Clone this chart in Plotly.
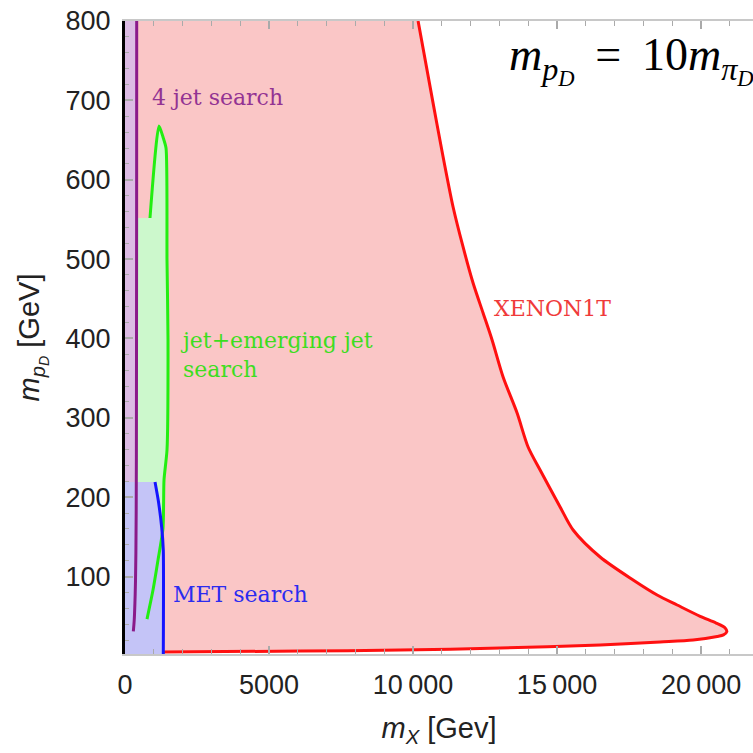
import plotly.graph_objects as go

# ---------------- data (GeV) ----------------
X_RANGE = [0, 21800]
Y_RANGE = [2.5, 800]

# XENON1T boundary (upper branch from top, tip, lower branch back to MET line)
xenon_x = [10174, 10677, 10997, 11389, 11736, 12083, 12431, 12743, 13125, 13611, 13993,
           14410, 15104, 15556, 16493, 17639, 18472, 19167, 19965, 20520, 20833, 20890,
           20775, 20556, 19722, 18576, 16493, 13021, 9549, 6076, 1319]
xenon_y = [800, 700, 637.5, 565.7, 515.3, 469.9, 432.1, 398.1, 351.5, 306.1, 263.3,
           234.3, 187.7, 158.7, 124.7, 95.7, 76.8, 64.2, 50.0, 41.5, 35.4, 30.5,
           26.6, 24.6, 20.1, 17.6, 13.8, 10.0, 7.5, 6.2, 5.0]

# 4 jet search boundary
jet4_x = [406, 404, 400, 395, 388, 378, 365, 347, 320, 289]
jet4_y = [800, 600, 400, 250, 180, 130, 95, 70, 45, 31]

# jet + emerging jet search boundary
emj_x = [868, 1181, 1319, 1424, 1458, 1493, 1458, 1354, 1319, 1146, 972, 764]
emj_y = [551.8, 667.7, 653.8, 640, 498.9, 398, 259.5, 221.7, 161.2, 120.9, 83.1, 46.5]

# MET search boundary
met_x = [1042, 1157, 1274, 1330, 1330]
met_y = [219.2, 195.6, 161.9, 133, 2.5]

# labels
x_tickvals = [0, 5000, 10000, 15000, 20000]
x_ticktext = ["0", "5000", "10\u2009000", "15\u2009000", "20\u2009000"]
y_tickvals = [100, 200, 300, 400, 500, 600, 700, 800]
y_ticktext = ["100", "200", "300", "400", "500", "600", "700", "800"]

labels = [
    dict(text="4 jet search", x=868, y=703, color="#933393"),
    dict(text="XENON1T", x=12740, y=438, color="#f03a3a"),
    dict(text="jet+emerging jet<br>search", x=1840, y=379, color="#3ddd1e"),
    dict(text="MET search", x=1587, y=78, color="#2b2bf0"),
]

RED_FILL = "#fac6c6"
PURPLE_FILL = "#dcbce4"
GREEN_FILL = "#ccf8cc"
BLUE_FILL = "#c4c4f7"

fig = go.Figure()

# red region fill (curve closed towards x = 0)
fig.add_trace(go.Scatter(
    x=xenon_x, y=xenon_y, fill="tozerox", fillcolor=RED_FILL, mode="lines",
    line=dict(width=0, shape="spline", smoothing=0.8, color=RED_FILL), hoverinfo="skip"))

# green region fill (curve closed towards x = 0, purple drawn over the strip)
fig.add_trace(go.Scatter(
    x=emj_x, y=emj_y, fill="tozerox", fillcolor=GREEN_FILL, mode="lines",
    line=dict(width=0, shape="spline", smoothing=0.6, color=GREEN_FILL), hoverinfo="skip"))

# purple region fill
fig.add_trace(go.Scatter(
    x=jet4_x, y=jet4_y, fill="tozerox", fillcolor=PURPLE_FILL, mode="lines",
    line=dict(width=0, shape="spline", color=PURPLE_FILL), hoverinfo="skip"))

# blue region fill
fig.add_trace(go.Scatter(
    x=met_x, y=met_y, fill="tozerox", fillcolor=BLUE_FILL, mode="lines",
    line=dict(width=0, shape="spline", smoothing=0.5, color=BLUE_FILL), hoverinfo="skip"))

# boundary lines
fig.add_trace(go.Scatter(x=xenon_x, y=xenon_y, mode="lines",
                         line=dict(color="#ff1010", width=3, shape="spline", smoothing=0.8),
                         hoverinfo="skip"))
fig.add_trace(go.Scatter(x=jet4_x, y=jet4_y, mode="lines",
                         line=dict(color="#8a1a8a", width=3, shape="spline"), hoverinfo="skip"))
fig.add_trace(go.Scatter(x=emj_x, y=emj_y, mode="lines",
                         line=dict(color="#22ee11", width=3, shape="spline", smoothing=0.6),
                         hoverinfo="skip"))
fig.add_trace(go.Scatter(x=met_x, y=met_y, mode="lines",
                         line=dict(color="#1515ff", width=3, shape="spline", smoothing=0.5),
                         hoverinfo="skip"))

for lb in labels:
    fig.add_annotation(x=lb["x"], y=lb["y"], text=lb["text"], showarrow=False,
                       xanchor="left", yanchor="middle", align="left",
                       font=dict(family="DejaVu Serif", size=22, color=lb["color"]))

# title formula
fig.add_annotation(
    xref="paper", yref="paper", x=0.608, y=0.99, xanchor="left", yanchor="top",
    text=("<i>m</i><sub><i>p</i><sub><i>D</i></sub></sub>\u2009 = \u2009"
          "10<i>m</i><sub><i>π</i><sub><i>D</i></sub></sub>"),
    showarrow=False, font=dict(family="Liberation Serif", size=46, color="black"))

fig.update_layout(
    width=753, height=753,
    margin=dict(l=125, r=0, t=21, b=99),
    paper_bgcolor="white", plot_bgcolor="white",
    showlegend=False,
    font=dict(family="Liberation Sans", size=27, color="#222"),
)
fig.update_xaxes(
    range=X_RANGE, showgrid=False, zeroline=False,
    tickvals=x_tickvals, ticktext=x_ticktext,
    ticks="inside", ticklen=8, tickcolor="#aaa", tickwidth=1.5,
    minor=dict(dtick=1000, ticks="inside", ticklen=5, tickcolor="#aaa", tickwidth=1.2),
    showline=True, linecolor="#c8c8c8", linewidth=2, mirror="ticks",
    ticklabelstandoff=6,
    title=dict(text="<i>m</i><sub><i>X</i></sub> [Gev]", font=dict(size=29), standoff=18),
)
fig.update_yaxes(
    range=Y_RANGE, showgrid=False, zeroline=False,
    tickvals=y_tickvals, ticktext=y_ticktext,
    ticks="inside", ticklen=8, tickcolor="#aaa", tickwidth=1.5,
    minor=dict(dtick=20, ticks="inside", ticklen=4, tickcolor="#aaa", tickwidth=1.2),
    showline=True, linecolor="black", linewidth=3,
    ticklabelstandoff=6,
    title=dict(text="<i>m</i><sub><i>p</i><sub><i>D</i></sub></sub> [GeV]", font=dict(size=29), standoff=18),
)

fig.write_html("out.html")
